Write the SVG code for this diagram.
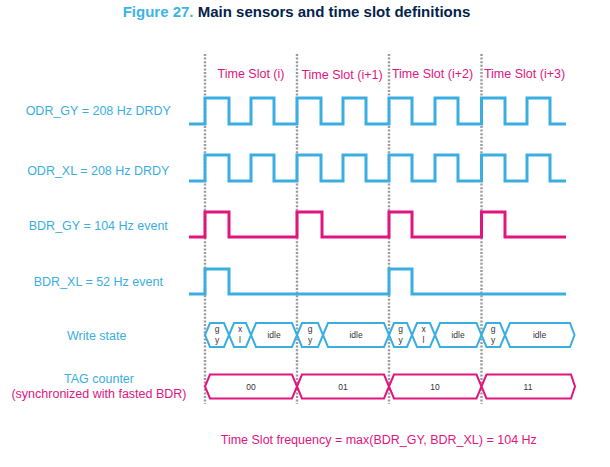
<svg xmlns="http://www.w3.org/2000/svg" width="610" height="467" viewBox="0 0 610 467">
<style>
text{font-family:"Liberation Sans",Arial,sans-serif}
.lbl{font-size:12.5px;fill:#3AAEE0;text-anchor:middle}
.pk{font-size:12.5px;fill:#E0157F;text-anchor:middle}
.wb{fill:none;stroke:#3AAEE0;stroke-width:3;stroke-linejoin:miter}
.wp{fill:none;stroke:#E0157F;stroke-width:3;stroke-linejoin:miter}
.hb{fill:#fff;stroke:#3AAEE0;stroke-width:2}
.hp{fill:#fff;stroke:#E0157F;stroke-width:2}
.sm{font-size:8.5px;fill:#333;text-anchor:middle}
.dot{stroke:#9a9a9a;stroke-width:2.4;stroke-dasharray:2 1.6;fill:none}
</style>
<rect width="610" height="467" fill="#fff"/>
<g id="title">
<text x="122.7" y="17" style="font-size:15px;font-weight:bold"><tspan fill="#3CB4E6">Figure 27.</tspan><tspan fill="#03234B"> Main sensors and time slot definitions</tspan></text>
</g>
<g id="slot-boundaries">
<line class="dot" x1="205" y1="54" x2="205" y2="404"/>
<line class="dot" x1="297" y1="54" x2="297" y2="404"/>
<line class="dot" x1="389" y1="54" x2="389" y2="404"/>
<line class="dot" x1="481.5" y1="54" x2="481.5" y2="404"/>
</g>
<g id="slot-labels">
<text class="pk" x="251" y="78">Time Slot (i)</text>
<text class="pk" x="342" y="79">Time Slot (i+1)</text>
<text class="pk" x="432.5" y="78">Time Slot (i+2)</text>
<text class="pk" x="524.5" y="78">Time Slot (i+3)</text>
</g>
<g id="row-labels">
<text class="lbl" x="98.3" y="115">ODR_GY = 208 Hz DRDY</text>
<text class="lbl" x="98.3" y="175">ODR_XL = 208 Hz DRDY</text>
<text class="lbl" x="98.3" y="229.5">BDR_GY = 104 Hz event</text>
<text class="lbl" x="98.3" y="286">BDR_XL = 52 Hz event</text>
<text class="lbl" x="96.7" y="340">Write state</text>
<text class="lbl" x="99" y="383">TAG counter</text>
<text class="pk" x="99" y="398">(synchronized with fasted BDR)</text>
</g>
<g id="odr-gy">
<path class="wb" d="M189,124 H205 V98 H229 V124 H251 V98 H274 V124 H297 V98 H321 V124 H343 V98 H366 V124 H389 V98 H412 V124 H435 V98 H458 V124 H481.5 V98 H505 V124 H527 V98 H550 V124 H566"/>
</g>
<g id="odr-xl">
<path class="wb" d="M189,181 H205 V155 H229 V181 H251 V155 H274 V181 H297 V155 H321 V181 H343 V155 H366 V181 H389 V155 H412 V181 H435 V155 H458 V181 H481.5 V155 H505 V181 H527 V155 H550 V181 H566"/>
</g>
<g id="bdr-gy">
<path class="wp" d="M189,237 H205 V212 H229 V237 H297 V212 H322 V237 H389 V212 H412 V237 H481.5 V212 H505 V237 H566"/>
</g>
<g id="bdr-xl">
<path class="wb" d="M189,294 H205 V269 H229 V294 H389 V269 H412 V294 H566"/>
</g>
<g id="write-state">
<path class="hb" d="M205,335 L210,323 H224 L229,335 L224,347 H210 Z"/>
<path class="hb" d="M229,335 L234,323 H246 L251,335 L246,347 H234 Z"/>
<path class="hb" d="M251,335 L256,323 H292 L297,335 L292,347 H256 Z"/>
<path class="hb" d="M297,335 L302,323 H318 L323,335 L318,347 H302 Z"/>
<path class="hb" d="M323,335 L328,323 H384 L389,335 L384,347 H328 Z"/>
<path class="hb" d="M389,335 L394,323 H407 L412,335 L407,347 H394 Z"/>
<path class="hb" d="M412,335 L417,323 H430 L435,335 L430,347 H417 Z"/>
<path class="hb" d="M435,335 L440,323 H476.5 L481.5,335 L476.5,347 H440 Z"/>
<path class="hb" d="M481.5,335 L486.5,323 H500 L505,335 L500,347 H486.5 Z"/>
<path class="hb" d="M505,335 L510,323 H570 L574.5,335 L570,347 H510 Z"/>
<text class="sm" x="217" y="332">g</text><text class="sm" x="217" y="343">y</text>
<text class="sm" x="240" y="332">x</text><text class="sm" x="240" y="343">l</text>
<text class="sm" x="274" y="338">idle</text>
<text class="sm" x="310" y="332">g</text><text class="sm" x="310" y="343">y</text>
<text class="sm" x="356" y="338">idle</text>
<text class="sm" x="400.5" y="332">g</text><text class="sm" x="400.5" y="343">y</text>
<text class="sm" x="423.5" y="332">x</text><text class="sm" x="423.5" y="343">l</text>
<text class="sm" x="458" y="338">idle</text>
<text class="sm" x="493" y="332">g</text><text class="sm" x="493" y="343">y</text>
<text class="sm" x="539.5" y="338">idle</text>
</g>
<g id="tag-counter">
<path class="hp" d="M205,386.5 L210,374.5 H292 L297,386.5 L292,398.5 H210 Z"/>
<path class="hp" d="M297,386.5 L302,374.5 H384 L389,386.5 L384,398.5 H302 Z"/>
<path class="hp" d="M389,386.5 L394,374.5 H476.5 L481.5,386.5 L476.5,398.5 H394 Z"/>
<path class="hp" d="M481.5,386.5 L486.5,374.5 H571 L575,386.5 L571,398.5 H486.5 Z"/>
<text class="sm" x="251" y="389.5">00</text>
<text class="sm" x="343" y="389.5">01</text>
<text class="sm" x="435" y="389.5">10</text>
<text class="sm" x="528" y="389.5">11</text>
</g>
<g id="footer">
<text class="pk" x="378.8" y="444">Time Slot frequency = max(BDR_GY, BDR_XL) = 104 Hz</text>
</g>
</svg>
